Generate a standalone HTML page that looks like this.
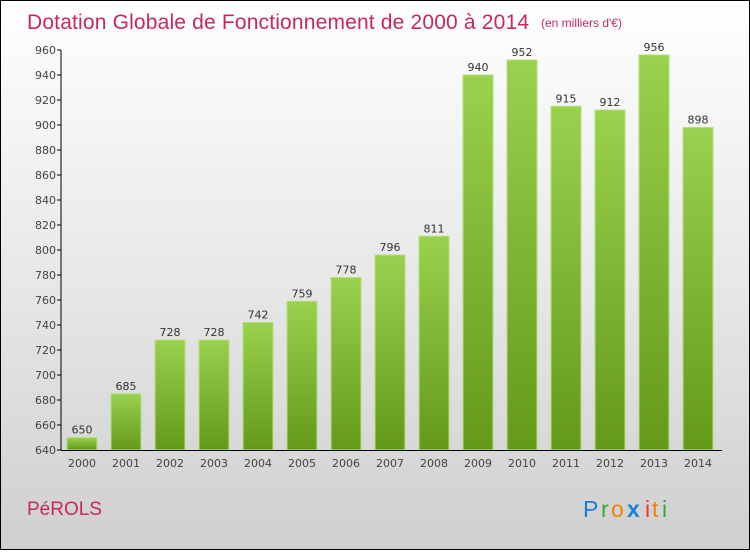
<!DOCTYPE html>
<html><head><meta charset="utf-8"><style>
body{margin:0}
#c{width:748px;height:548px;border:1px solid #000;background:linear-gradient(#fff,#e8e8e8 50%,#cfcfcf);position:relative;font-family:"DejaVu Sans","Liberation Sans",sans-serif}
</style></head><body>
<div id="c">
<svg width="748" height="548" id="s">
<defs><linearGradient id="g" x1="0" y1="0" x2="0" y2="1"><stop offset="0" stop-color="#9ad14e"/><stop offset="1" stop-color="#64991a"/></linearGradient></defs>
<text x="26" y="28" font-size="21" font-family="Liberation Sans" fill="#c8285a" textLength="502">Dotation Globale de Fonctionnement de 2000 à 2014</text>
<text x="540" y="26" font-size="12" font-family="Liberation Sans" fill="#c8285a">(en milliers d'€)</text>
<text x="26" y="514" font-size="19" font-family="Liberation Sans" fill="#c8285a">PéROLS</text>
<g font-size="23" font-family="Liberation Sans"><text x="582" y="516" fill="#1a7fd6">P</text><text x="600" y="516" fill="#3aa53a">r</text><text x="610" y="516" fill="#f08010">o</text><text x="626" y="516" fill="#1a7fd6" font-weight="bold">x</text><text x="644" y="516" fill="#e04020">i</text><text x="651" y="516" fill="#f08010">t</text><text x="661" y="516" fill="#3aa53a">i</text></g>
<g id="p"></g>
</svg></div>
<script>
const years=["2000","2001","2002","2003","2004","2005","2006","2007","2008","2009","2010","2011","2012","2013","2014"];
const values=[650,685,728,728,742,759,778,796,811,940,952,915,912,956,898];
const ticks=[640,660,680,700,720,740,760,780,800,820,840,860,880,900,920,940,960];
const ns="http://www.w3.org/2000/svg",p=document.getElementById('p');
const y=v=>449-(v-640)*1.25, x=i=>81+i*44;
function mk(t,a,txt){const e=document.createElementNS(ns,t);for(const k in a)e.setAttribute(k,a[k]);if(txt!=null)e.textContent=txt;p.appendChild(e);return e;}
ticks.forEach(t=>{
const l=mk('line',{x1:56,x2:60,y1:y(t),y2:y(t),stroke:'#000'});


const tx=mk('text',{x:55,y:y(t)+4,'font-size':11,'text-anchor':'end',fill:'#444'},t);


});
values.forEach((v,i)=>{
const r=mk('rect',{x:x(i)-15,y:y(v),width:30,height:449-y(v),fill:'url(#g)',stroke:'#b5e07a','stroke-width':1});


const vl=mk('text',{x:x(i),y:y(v)-4,'font-size':11,'text-anchor':'middle',fill:'#333'},v);


const xl=mk('text',{x:x(i),y:466,'font-size':11,'text-anchor':'middle',fill:'#444'},years[i]);


});
const ya=mk('line',{x1:60,x2:60,y1:y(960),y2:449,stroke:'#000'});


const xa=mk('line',{x1:60,x2:721,y1:449.5,y2:449.5,stroke:'#000'});


</script>
</body></html>
